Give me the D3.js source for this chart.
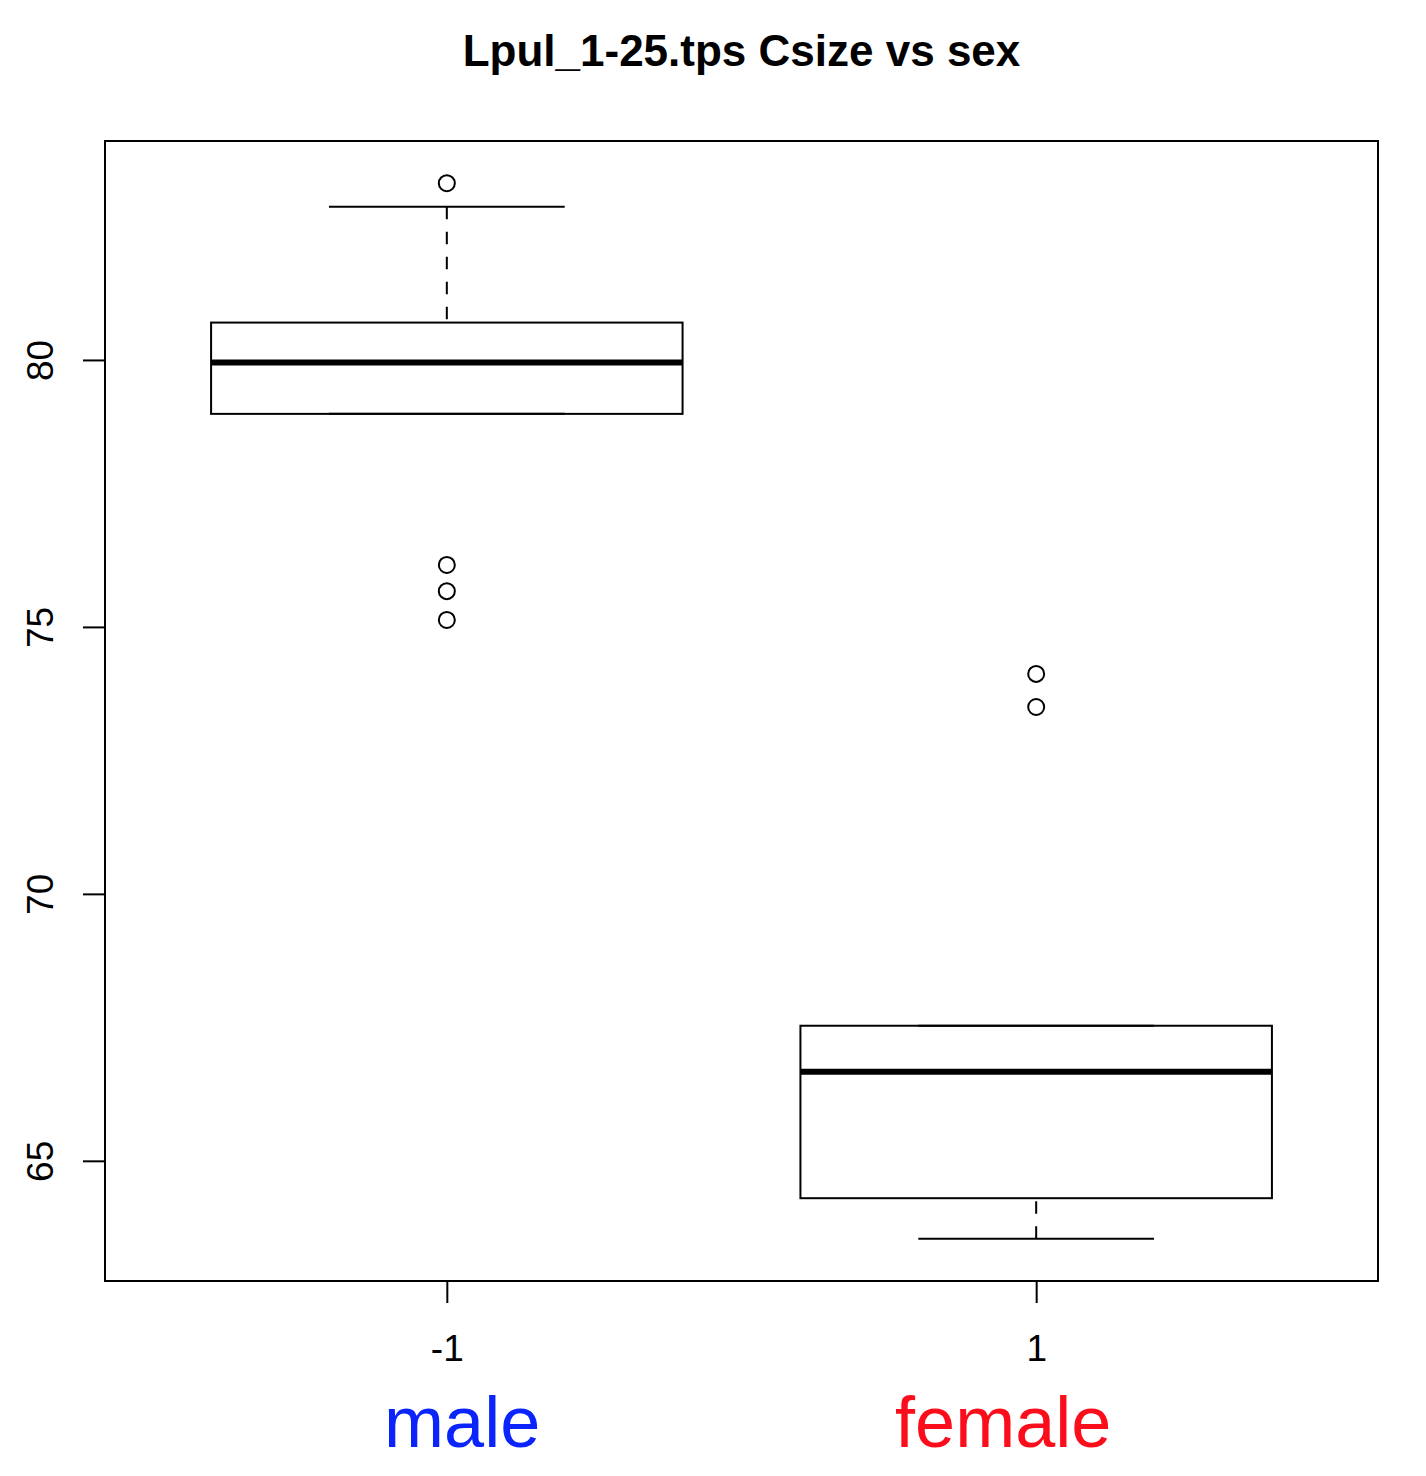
<!DOCTYPE html>
<html>
<head>
<meta charset="utf-8">
<script src="https://cdn.jsdelivr.net/npm/d3@7"></script>
<style>
  html, body { margin: 0; padding: 0; background: #fff; }
  svg { display: block; font-family: "Liberation Sans", Arial, Helvetica, sans-serif; }
</style>
</head>
<body>
<svg width="1426" height="1476"></svg>
<script>
// values
const groups = ['-1', '1']
const groupNames = ['male', 'female']
const groupColors = ['#0b24fb', '#fc0d1b']
const groupNameAt = [1.026, 1.944]
const lowerWhisker = [78.99, 63.54]
const q1 = [78.99, 64.30]
const median = [79.95, 66.67]
const q3 = [80.70, 67.53]
const upperWhisker = [82.87, 67.53]
const outliers = [[83.31, 76.16, 75.67, 75.13], [74.12, 73.50]]
const yTicks = [65, 70, 75, 80]

const svg = d3.select('svg')
const W = +svg.attr('width')
const H = +svg.attr('height')
const margin = { top: 141, right: 48, bottom: 195, left: 105 }

// R-style axis limits: data range padded by 4%
const all = [...lowerWhisker, ...upperWhisker, ...outliers.flat()]
const [lo, hi] = d3.extent(all)
const pad = (hi - lo) * 0.04

const x = d3.scaleLinear()
  .domain([0.5 - 0.08, 2.5 + 0.08])
  .range([margin.left, W - margin.right])
const y = d3.scaleLinear()
  .domain([lo - pad, hi + pad])
  .range([H - margin.bottom, margin.top])

const unit = x(2) - x(1)
const boxW = 0.8 * unit
const capW = 0.4 * unit

// title
svg.append('text')
  .attr('x', (x.range()[0] + x.range()[1]) / 2)
  .attr('y', 66)
  .attr('text-anchor', 'middle')
  .attr('font-weight', 'bold')
  .attr('font-size', 44)
  .text('Lpul_1-25.tps Csize vs sex')

const boxes = svg.append('g')
  .selectAll('g')
  .data(groups.map((g, i) => ({
    i, pos: i + 1,
    lw: lowerWhisker[i], q1: q1[i], med: median[i], q3: q3[i], uw: upperWhisker[i],
    out: outliers[i]
  })))
  .join('g')

// whiskers (dashed, from whisker end to box edge)
boxes.selectAll('line.whisk')
  .data(d => [[d.pos, d.lw, d.q1], [d.pos, d.uw, d.q3]])
  .join('line')
  .attr('class', 'whisk')
  .attr('x1', d => x(d[0]))
  .attr('x2', d => x(d[0]))
  .attr('y1', d => y(d[1]))
  .attr('y2', d => y(d[2]))
  .attr('stroke', '#000')
  .attr('stroke-width', 2)
  .attr('stroke-dasharray', '12.5,12.5')

// caps
boxes.selectAll('line.cap')
  .data(d => [[d.pos, d.lw], [d.pos, d.uw]])
  .join('line')
  .attr('class', 'cap')
  .attr('x1', d => x(d[0]) - capW / 2)
  .attr('x2', d => x(d[0]) + capW / 2)
  .attr('y1', d => y(d[1]))
  .attr('y2', d => y(d[1]))
  .attr('stroke', '#000')
  .attr('stroke-width', 2)

// box
boxes.append('rect')
  .attr('x', d => x(d.pos) - boxW / 2)
  .attr('width', boxW)
  .attr('y', d => y(d.q3))
  .attr('height', d => y(d.q1) - y(d.q3))
  .attr('fill', 'none')
  .attr('stroke', '#000')
  .attr('stroke-width', 2)

// median
boxes.append('line')
  .attr('x1', d => x(d.pos) - boxW / 2)
  .attr('x2', d => x(d.pos) + boxW / 2)
  .attr('y1', d => y(d.med))
  .attr('y2', d => y(d.med))
  .attr('stroke', '#000')
  .attr('stroke-width', 6)

// outliers
boxes.selectAll('circle')
  .data(d => d.out.map(v => [d.pos, v]))
  .join('circle')
  .attr('cx', d => x(d[0]))
  .attr('cy', d => y(d[1]))
  .attr('r', 8)
  .attr('fill', 'none')
  .attr('stroke', '#000')
  .attr('stroke-width', 2)

// plot frame
svg.append('rect')
  .attr('x', x.range()[0])
  .attr('y', y.range()[1])
  .attr('width', x.range()[1] - x.range()[0])
  .attr('height', y.range()[0] - y.range()[1])
  .attr('fill', 'none')
  .attr('stroke', '#000')
  .attr('stroke-width', 2)

// y axis
const yAxis = svg.append('g')
  .attr('transform', `translate(${margin.left},0)`)
  .call(d3.axisLeft(y).tickValues(yTicks).tickSize(22).tickFormat(d3.format('d')))
yAxis.select('.domain').remove()
yAxis.selectAll('.tick line').attr('stroke', '#000').attr('stroke-width', 2)
yAxis.selectAll('.tick text')
  .attr('font-size', 37)
  .attr('fill', '#000')
  .attr('text-anchor', 'middle')
  .attr('dy', null)
  .attr('x', null)
  .attr('transform', 'translate(-52,0) rotate(-90)')

// x axis
const xAxis = svg.append('g')
  .attr('transform', `translate(0,${H - margin.bottom})`)
  .call(d3.axisBottom(x).tickValues([1, 2]).tickSize(22).tickFormat(d => groups[d - 1]))
xAxis.select('.domain').remove()
xAxis.selectAll('.tick line').attr('stroke', '#000').attr('stroke-width', 2)
xAxis.selectAll('.tick text')
  .attr('font-size', 37)
  .attr('fill', '#000')
  .attr('dy', null)
  .attr('y', 80)

// group names under the axis
svg.append('g')
  .selectAll('text')
  .data(groupNames)
  .join('text')
  .attr('x', (d, i) => x(groupNameAt[i]))
  .attr('y', 1447)
  .attr('text-anchor', 'middle')
  .attr('font-size', 72)
  .attr('fill', (d, i) => groupColors[i])
  .text(d => d)
</script>
</body>
</html>
